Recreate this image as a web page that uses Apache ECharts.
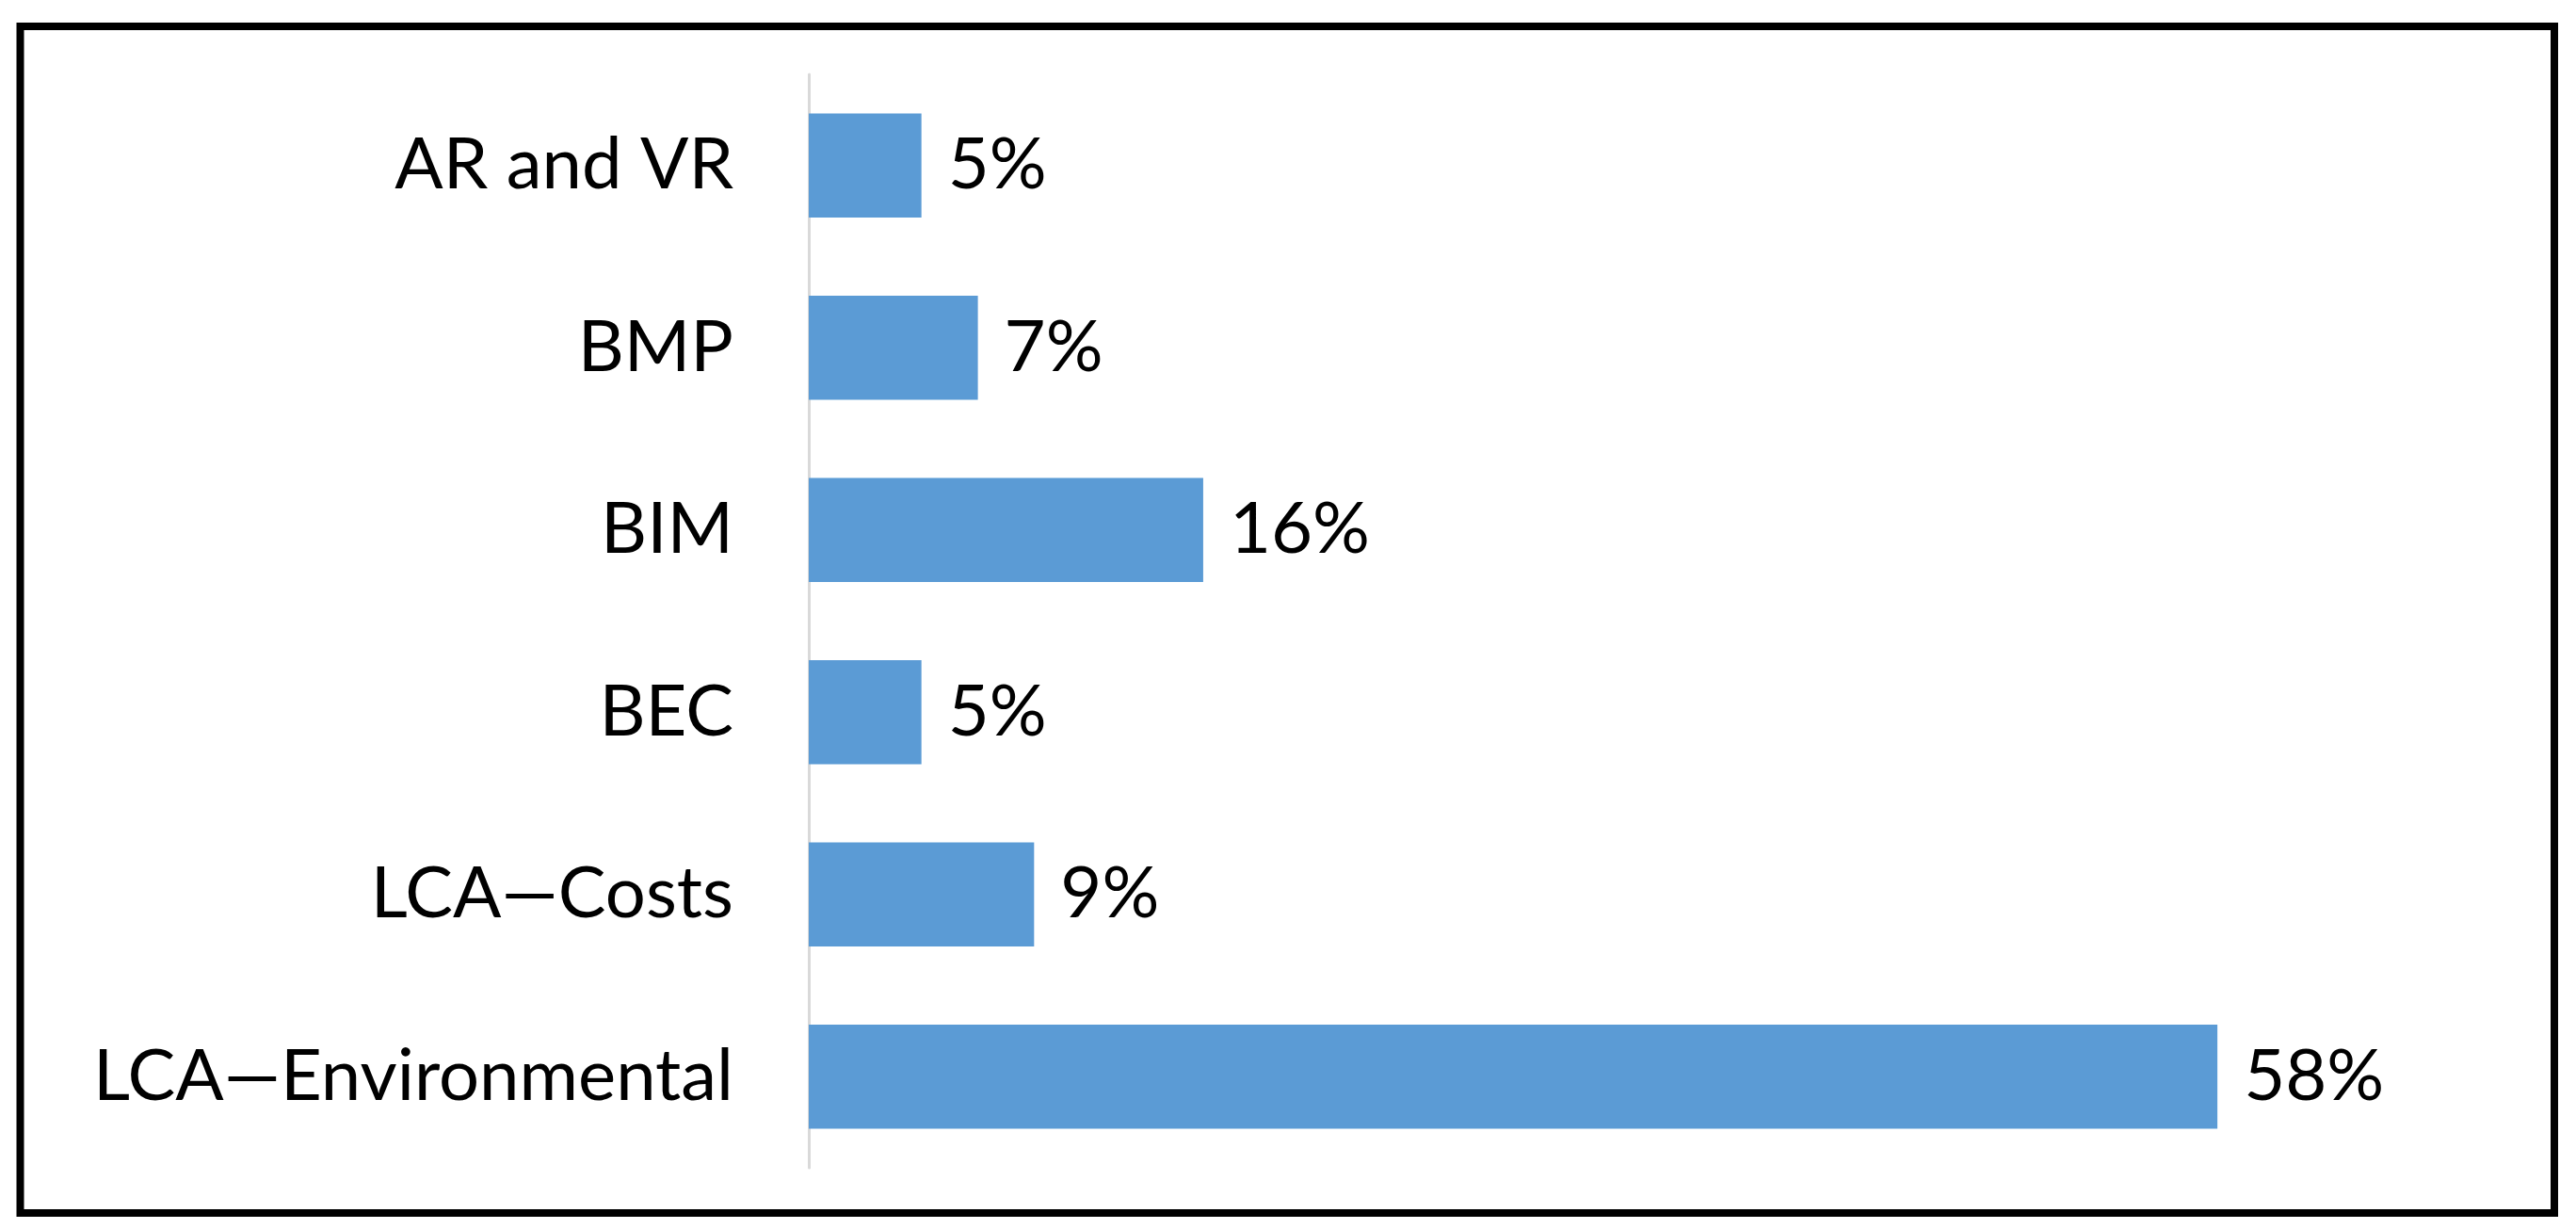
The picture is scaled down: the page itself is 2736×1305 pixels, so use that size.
<!DOCTYPE html>
<html>
<head>
<meta charset="utf-8">
<script src="https://cdn.jsdelivr.net/npm/echarts@6/dist/echarts.min.js"></script>
<style>
html,body{margin:0;padding:0;background:#fff;}
#chart{width:2736px;height:1305px;}
</style>
</head>
<body>
<div id="chart"></div>
<script>
// Categories, top to bottom
const categories = ['AR and VR', 'BMP', 'BIM', 'BEC', 'LCA\u2014Costs', 'LCA\u2014Environmental'];
// Shares in percent
const shares = [4.65, 6.98, 16.28, 4.65, 9.30, 58.14];
// Labels as printed on the chart
const valueLabels = ['5%', '7%', '16%', '5%', '9%', '58%'];

const chart = echarts.init(document.getElementById('chart'), null, {renderer: 'canvas'});
const FONT = 'Lato';

chart.setOption({
  backgroundColor: '#ffffff',
  animation: false,
  grid: {left: 859, top: 79, width: 1544, height: 1161, containLabel: false},
  xAxis: {
    type: 'value', min: 0, max: 60,
    show: false,
    splitLine: {show: false}
  },
  yAxis: {
    type: 'category',
    data: categories,
    inverse: true,
    axisLine: {show: true, lineStyle: {color: '#d9d9d9', width: 3}},
    axisTick: {show: false},
    axisLabel: {
      margin: 80,
      color: '#000000',
      fontFamily: FONT,
      fontSize: 76
    }
  },
  series: [{
    type: 'bar',
    data: shares,
    barCategoryGap: '43%',
    itemStyle: {color: '#5b9bd5'},
    label: {
      show: true,
      position: 'right',
      distance: 28,
      color: '#000000',
      fontFamily: FONT,
      fontSize: 76,
      formatter: p => valueLabels[p.dataIndex]
    }
  }],
  graphic: [{
    type: 'rect',
    shape: {x: 21.5, y: 28, width: 2691.5, height: 1260},
    style: {fill: 'none', stroke: '#000000', lineWidth: 8},
    silent: true
  }]
});
</script>
</body>
</html>
